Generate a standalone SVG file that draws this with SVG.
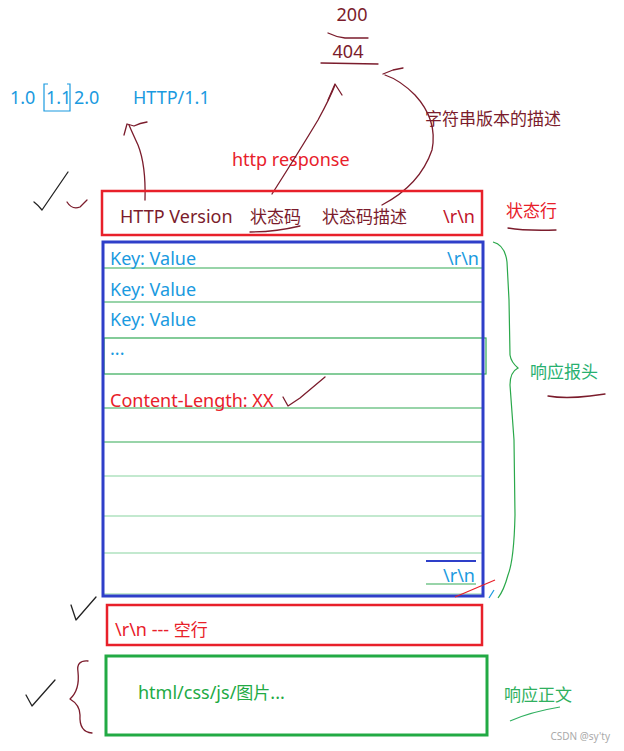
<svg xmlns="http://www.w3.org/2000/svg" width="624" height="751" viewBox="0 0 624 751">
<style>
text{font-family:"Noto Sans","Noto Sans CJK SC",sans-serif;font-size:18px}
.cjk{font-family:"Noto Sans CJK SC",sans-serif;font-size:17px}
.mr{fill:#7b1c2c}.rd{fill:#e8202a}.bl{fill:#1a9ae0}.gr{fill:#22aa44}
.ink{fill:none;stroke:#7b1c2c;stroke-width:1.3;stroke-linecap:round;stroke-linejoin:round}
.blk{fill:none;stroke:#222;stroke-width:1.3;stroke-linecap:round;stroke-linejoin:round}
.gl{stroke:#33aa55;stroke-width:1.2}
</style>
<rect width="624" height="751" fill="#fff"/>

<g id="top-labels">
<text x="352" y="21" class="mr" text-anchor="middle">200</text>
<path class="ink" d="M328,33 Q336,37 345,38 L368,38"/>
<text x="348" y="58" class="mr" text-anchor="middle">404</text>
<path class="ink" d="M321,63 L378,64"/>
<text x="10" y="104" class="bl">1.0</text>
<text x="46" y="104" class="bl">1.1</text>
<path d="M48,84 L44,84 L44,111 L70,111 L70,84 L67,84" fill="none" stroke="#1a9ae0" stroke-width="1.2"/>
<text x="74" y="104" class="bl">2.0</text>
<text x="133" y="104" class="bl">HTTP/1.1</text>
<text x="232" y="166" class="rd">http response</text>
<text x="425" y="125" class="mr cjk">字符串版本的描述</text>
</g>

<g id="connectors">
<path class="ink" d="M145,200 Q146,165 138,145 Q132,132 129,125"/>
<path class="ink" d="M124,135 L127,124 L134,126 Q140,123 147,122"/>
<path class="ink" d="M272,194 Q300,150 318,120 Q330,98 335,85"/>
<path class="ink" d="M328,100 L335,84 L342,95"/>
<path class="ink" d="M382,205 Q420,185 432,150 Q438,120 415,95 Q400,80 385,75"/>
<path class="ink" d="M383,74 L393,70 L403,68"/>
<path class="blk" d="M34,202 Q38,205 42,210 L68,172"/>
<path class="ink" d="M67,202 Q72,210 80,207 L87,200" stroke="#b03040"/>
<path class="ink" d="M283,397 L288,406 L300,398 L325,377"/>
<path class="blk" d="M71,605 L76,620 L96,597"/>
<path class="blk" d="M26,695 L32,706 L55,680"/>
<path class="ink" d="M88,661 Q76,660 78,672 Q80,690 70,699 Q80,705 80,715 Q79,732 92,733"/>
<path d="M493,242 Q505,245 507,262 L509,300 L510,355 Q511,362 518,368 Q510,372 510,385 L514,440 L515,515 Q514,560 508,575 Q504,590 498,598" fill="none" stroke="#2aa84a" stroke-width="1.2"/>
</g>

<g id="status-line">
<rect x="102" y="191" width="380" height="44" fill="none" stroke="#e8202a" stroke-width="2.5"/>
<text x="120" y="223" class="mr">HTTP Version</text>
<text x="250" y="223" class="mr cjk">状态码</text>
<path class="ink" d="M250,232 Q275,232 300,226"/>
<text x="322" y="223" class="mr cjk">状态码描述</text>
<text x="443" y="223" fill="#c0142a">\r\n</text>
<text x="506" y="217" class="rd cjk">状态行</text>
<path class="ink" d="M508,228 Q525,231 556,230"/>
</g>

<g id="headers">
<line class="gl" x1="104" y1="268" x2="482" y2="268"/>
<line class="gl" x1="104" y1="302" x2="482" y2="302"/>
<rect x="104" y="338" width="382" height="36" fill="none" stroke="#33aa55" stroke-width="1.2"/>
<line class="gl" x1="104" y1="408" x2="482" y2="408"/>
<line class="gl" x1="104" y1="442" x2="482" y2="442"/>
<line x1="104" y1="476" x2="482" y2="476" stroke="#88d4a0" stroke-width="1.2"/>
<line x1="104" y1="516" x2="482" y2="516" stroke="#88d4a0" stroke-width="1.2"/>
<line x1="104" y1="553" x2="482" y2="553" stroke="#88d4a0" stroke-width="1.2"/>
<line x1="104" y1="594" x2="482" y2="594" stroke="#88d4a0" stroke-width="1.2"/>
<rect x="103" y="242" width="380" height="354" fill="none" stroke="#2e3fc9" stroke-width="3"/>
<text x="110" y="265" class="bl">Key: Value</text>
<text x="447" y="265" class="bl">\r\n</text>
<text x="110" y="296" class="bl">Key: Value</text>
<text x="110" y="326" class="bl">Key: Value</text>
<text x="110" y="355" class="bl">...</text>
<text x="110" y="407" class="rd">Content-Length: XX</text>
<line x1="426" y1="561" x2="476" y2="561" stroke="#2e3fc9" stroke-width="2"/>
<text x="443" y="582" class="bl">\r\n</text>
<line x1="426" y1="584" x2="476" y2="584" stroke="#33aa55" stroke-width="1.2"/>
<path d="M455,597 L495,580" stroke="#e8202a" stroke-width="1.2" fill="none"/>
<path d="M489,598 L494,590" stroke="#1a9ae0" stroke-width="1.2" fill="none"/>
<text x="530" y="378" fill="#28b070" class="cjk">响应报头</text>
<path class="ink" d="M548,396 Q565,399 590,396 L605,394"/>
</g>

<g id="empty-line">
<rect x="107" y="605" width="375" height="40" fill="none" stroke="#e8202a" stroke-width="2.5"/>
<text x="115" y="636" class="rd">\r\n --- <tspan class="cjk">空行</tspan></text>
</g>

<g id="body">
<rect x="106" y="656" width="381" height="79" fill="none" stroke="#22aa44" stroke-width="3"/>
<text x="138" y="699" class="gr">html/css/js/<tspan class="cjk">图片</tspan>...</text>
<text x="504" y="701" fill="#30b060" class="cjk">响应正文</text>
<path d="M510,721 Q530,712 560,707" fill="none" stroke="#30b060" stroke-width="1.2"/>
</g>

<text x="610" y="740" text-anchor="end" fill="#aaa" style="font-size:10px">CSDN @sy'ty</text>
</svg>
